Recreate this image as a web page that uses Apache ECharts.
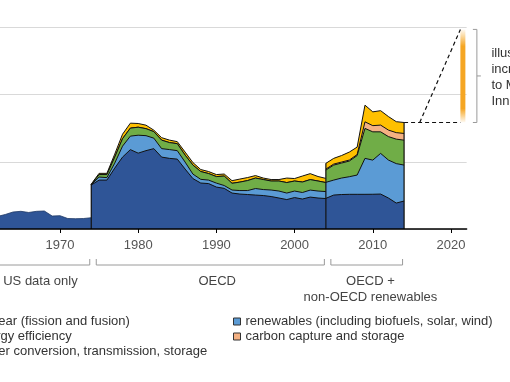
<!DOCTYPE html>
<html>
<head>
<meta charset="utf-8">
<script src="https://cdn.jsdelivr.net/npm/echarts@6/dist/echarts.min.js"></script>
<style>
html,body{margin:0;padding:0;background:#fff;}
#main{width:510px;height:382px;}
</style>
</head>
<body>
<div id="main"></div>
<script>
// ---------- DATA ----------
const seriesNames = [
  'nuclear (fission and fusion)',
  'renewables (including biofuels, solar, wind)',
  'energy efficiency',
  'carbon capture and storage',
  'power conversion, transmission, storage'
];
const seriesColors = ['#2f5597', '#5b9bd5', '#70ad47', '#f4b183', '#ffc000'];

const decadeTicks = [1970, 1980, 1990, 2000, 2010, 2020];

// US data only (nuclear only)
const usYears   = [1961,1962,1963,1964,1965,1966,1967,1968,1969,1970,1971,1972,1973,1974];
const usNuclear = [1.80,1.86,2.16,2.53,2.63,2.46,2.63,2.68,1.93,1.98,1.56,1.53,1.56,1.68];

// OECD
const oecdYears = [1974,1975,1976,1977,1978,1979,1980,1981,1982,1983,1984,1985,1986,1987,1988,1989,
                   1990,1991,1992,1993,1994,1995,1996,1997,1998,1999,2000,2001,2002,2003,2004];
const oecdNuclear    = [6.54,7.28,7.28,9.06,10.70,11.81,11.29,11.66,11.96,10.70,10.51,10.40,8.92,7.50,6.84,6.76,
                        6.24,6.05,5.35,5.20,5.13,5.05,4.98,4.83,4.61,4.38,4.68,4.46,4.75,4.61,4.53];
const oecdRenewables = [0.04,0.45,0.37,0.74,1.63,2.01,2.67,2.23,1.56,1.26,1.31,1.26,1.04,0.67,0.55,0.52,
                        0.59,0.42,0.45,0.52,0.59,0.97,0.89,0.97,1.04,0.97,0.97,0.97,1.04,1.04,1.04];
const oecdEfficiency = [0.04,0.37,0.45,0.89,1.11,1.19,1.19,1.04,0.97,1.26,1.04,1.04,1.04,1.34,1.16,0.97,
                        0.97,1.41,1.00,1.26,1.49,1.56,1.49,1.34,1.49,1.56,1.49,1.56,1.56,1.49,1.34];
const oecdCCS        = [0,0,0,0,0,0,0,0,0,0,0,0,0,0,0,0,
                        0,0,0,0,0,0,0,0,0,0,0,0,0,0,0];
const oecdPower      = [0.06,0.18,0.18,0.45,0.67,0.74,0.55,0.52,0.22,0.37,0.37,0.30,0.45,0.37,0.30,0.30,
                        0.30,0.30,0.39,0.45,0.45,0.37,0.22,0.22,0.22,0.67,0.37,0.89,0.89,0.67,0.62];

// OECD + non-OECD renewables
const globalYears      = [2004,2005,2006,2007,2008,2009,2010,2011,2012,2013,2014];
const globalNuclear    = [4.56,5.05,5.13,5.16,5.16,5.16,5.17,5.20,4.61,3.86,4.16];
const globalRenewables = [2.38,2.23,2.45,2.62,2.87,5.35,5.08,6.05,5.65,5.87,5.35];
const globalEfficiency = [1.83,2.23,2.23,2.33,2.90,4.46,4.21,3.21,3.49,3.64,3.71];
const globalCCS        = [0.15,0.15,0.15,0.15,0.15,0.98,0.92,1.00,0.97,0.97,1.00];
const globalPower      = [0.85,0.85,0.97,1.19,1.11,2.48,2.05,2.15,2.01,1.63,1.63];

// Illustrative increase annotation
const missionYears = [2016, 2021.2];
const missionTop = 29.7;
const missionText = ['illustrative', 'increase due', 'to Mission', 'Innovation'];

const segmentLabels = ['US data only', 'OECD', 'OECD +\nnon-OECD renewables'];

// ---------- CHART ----------
const FONT = '"Liberation Sans", Arial, Helvetica, sans-serif';
const chart = echarts.init(document.getElementById('main'), null, {renderer: 'canvas'});

const oecdLayers = [oecdNuclear, oecdRenewables, oecdEfficiency, oecdCCS, oecdPower];
const globalLayers = [globalNuclear, globalRenewables, globalEfficiency, globalCCS, globalPower];
const total = (layers, i) => layers.reduce((s, l) => s + l[i], 0);
// cumulative (stacked) top of layer k at each year
const cumulative = (years, layers, k) =>
  years.map((y, i) => [y, layers.slice(0, k + 1).reduce((s, l) => s + l[i], 0)]);
const lastG = globalYears.length - 1;
const tot14 = total(globalLayers, lastG);

const series = [];
series.push({
  name: seriesNames[0], type: 'line', data: usYears.map((y, i) => [y, usNuclear[i]]),
  color: seriesColors[0], symbol: 'none', showSymbol: false,
  lineStyle: {color: '#1d3764', width: 0.8}, areaStyle: {opacity: 1}, z: 8, silent: true
});
[[oecdYears, oecdLayers], [globalYears, globalLayers]].forEach(([yrs, layers]) => {
  layers.forEach((vals, k) => {
    series.push({
      name: seriesNames[k], type: 'line', data: cumulative(yrs, layers, k),
      color: seriesColors[k], symbol: 'none', showSymbol: false,
      lineStyle: {color: '#111', width: 1}, areaStyle: {opacity: 1, origin: 'start'},
      z: 8 - k, silent: true
    });
  });
});
// vertical edges of the data blocks
[[oecdYears[0], total(oecdLayers, 0)],
 [globalYears[0], total(globalLayers, 0)],
 [globalYears[lastG], tot14]].forEach(([x, t]) => {
  series.push({type: 'line', data: [[x, 0], [x, t]], symbol: 'none', showSymbol: false,
    lineStyle: {color: '#111', width: 1.2}, z: 12, silent: true});
});
// dashed illustrative lines
series.push({type: 'line', data: [[globalYears[lastG], tot14], [missionYears[1], tot14]],
  symbol: 'none', showSymbol: false, lineStyle: {color: '#111', width: 1.2, type: [4, 3]}, z: 12, silent: true});
series.push({type: 'line', data: [[missionYears[0], tot14], [missionYears[1], missionTop]],
  symbol: 'none', showSymbol: false, lineStyle: {color: '#111', width: 1.2, type: [4, 3]}, z: 12, silent: true});

const legendBase = {
  orient: 'vertical', icon: 'rect', itemWidth: 7, itemHeight: 7, itemGap: 0, padding: 0,
  selectedMode: false, top: 314,
  itemStyle: {borderColor: '#333', borderWidth: 1},
  textStyle: {fontSize: 13, color: '#333', fontFamily: FONT, lineHeight: 15}
};

chart.setOption({
  animation: false,
  textStyle: {fontFamily: FONT},
  grid: {left: 0, right: 43.36, top: 27.4, bottom: 153, containLabel: false},
  xAxis: {
    type: 'value', min: 1962.33, max: 2022, z: 20,
    axisLine: {show: true, lineStyle: {color: '#000', width: 1.5}},
    axisTick: {show: true, length: 4, customValues: decadeTicks, lineStyle: {color: '#000', width: 1}},
    axisLabel: {customValues: decadeTicks, formatter: v => String(v), color: '#555', fontSize: 13, margin: 10, fontFamily: FONT},
    splitLine: {show: false}
  },
  yAxis: {
    type: 'value', min: 0, max: 30, interval: 10,
    axisLine: {show: false}, axisTick: {show: false}, axisLabel: {show: false},
    splitLine: {show: true, lineStyle: {color: '#d9d9d9', width: 1}}
  },
  legend: [
    Object.assign({}, legendBase, {left: -38, data: [seriesNames[0], seriesNames[2], seriesNames[4]]}),
    Object.assign({}, legendBase, {left: 233, data: [seriesNames[1], seriesNames[3]]})
  ],
  series: series
});

// ---------- ANNOTATIONS ----------
const P = (x, y) => chart.convertToPixel({xAxisIndex: 0, yAxisIndex: 0}, [x, y]);
const gray = '#9a9a9a';
const g = [];
const brY = 265, tickTop = 259;
[[usYears[0], usYears[usYears.length - 1]],
 [oecdYears[0], oecdYears[oecdYears.length - 1]],
 [globalYears[0], globalYears[lastG]]].forEach(([a, b]) => {
  const x1 = P(a, 0)[0] + 5, x2 = P(b, 0)[0] - 1.5;
  g.push({type: 'polyline', silent: true,
    shape: {points: [[x1, tickTop], [x1, brY], [x2, brY], [x2, tickTop]]},
    style: {stroke: gray, lineWidth: 1, fill: 'none'}});
});
const labelAnchors = [1967.5, 1990.1, 2009.7];
segmentLabels.forEach((t, i) => {
  g.push({type: 'text', silent: true,
    style: {text: t, x: P(labelAnchors[i], 0)[0], y: 273, align: 'center', verticalAlign: 'top',
      font: '13px ' + FONT, lineHeight: 16, fill: '#444'}});
});

const [bx, yTop] = P(missionYears[1], missionTop);
const yBot = P(missionYears[1], tot14)[1];
g.push({type: 'rect', silent: true,
  shape: {x: bx, y: yTop, width: 5, height: yBot - yTop},
  style: {fill: {type: 'linear', x: 0, y: 0, x2: 0, y2: 1, colorStops: [
    {offset: 0, color: 'rgba(245,166,35,0.05)'},
    {offset: 0.18, color: 'rgba(245,166,35,1)'},
    {offset: 0.85, color: 'rgba(245,166,35,1)'},
    {offset: 1, color: 'rgba(245,166,35,0.05)'}]}}});
const brX = bx + 16.5;
const mid = (yTop + yBot) / 2;
g.push({type: 'polyline', silent: true,
  shape: {points: [[brX - 4, yTop], [brX, yTop], [brX, yBot], [brX - 4, yBot]]},
  style: {stroke: gray, lineWidth: 1, fill: 'none'}});
g.push({type: 'polyline', silent: true,
  shape: {points: [[brX, mid], [brX + 4, mid]]},
  style: {stroke: gray, lineWidth: 1, fill: 'none'}});
g.push({type: 'text', silent: true,
  style: {text: missionText.join('\n'), x: bx + 31, y: mid + 1, align: 'left', verticalAlign: 'middle',
    font: '13px ' + FONT, lineHeight: 16, fill: '#333'}});

chart.setOption({graphic: g});
</script>
</body>
</html>
